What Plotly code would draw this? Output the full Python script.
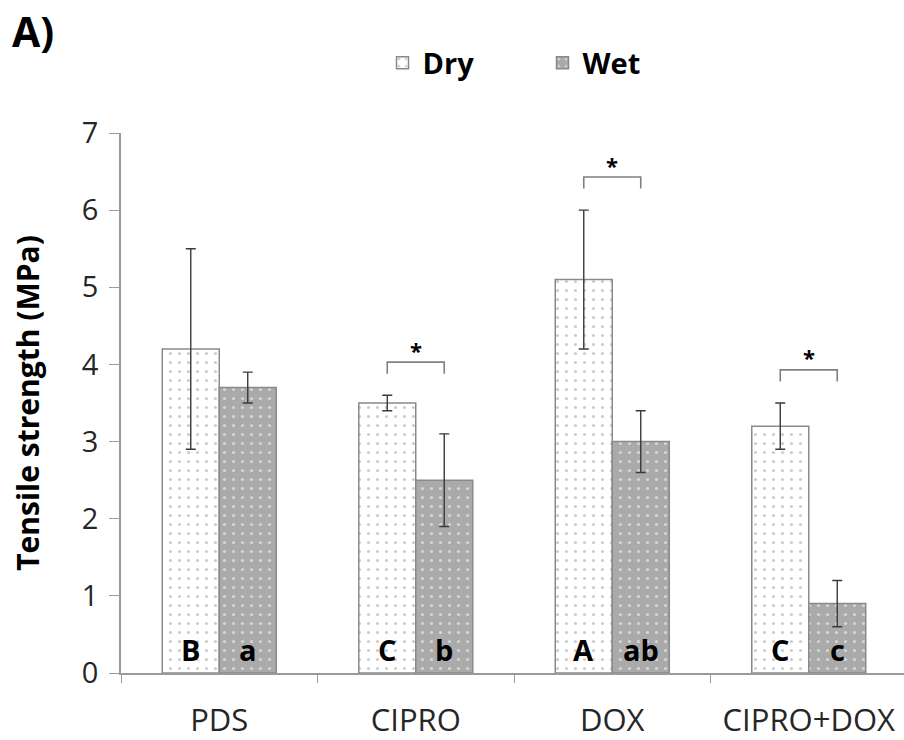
import plotly.graph_objects as go

# Tensile strength (MPa) of fibres, dry vs. wet, mean ± SD
categories = ["PDS", "CIPRO", "DOX", "CIPRO+DOX"]
dry_mean = [4.2, 3.5, 5.1, 3.2]
dry_sd = [1.3, 0.1, 0.9, 0.3]
wet_mean = [3.7, 2.5, 3.0, 0.9]
wet_sd = [0.2, 0.6, 0.4, 0.3]

# Statistical group letters
dry_letters = ["B", "C", "A", "C"]
wet_letters = ["a", "b", "ab", "c"]

# Dry vs. wet pairs that differ significantly
significant = ["CIPRO", "DOX", "CIPRO+DOX"]

FONT = "'Open Sans', sans-serif"
BAR_GAP = 0.42
HALF_BAR = (1 - BAR_GAP) / 4  # bar centre offset from the category centre

fig = go.Figure()

fig.add_trace(go.Bar(
    name="Dry", x=categories, y=dry_mean,
    error_y=dict(type="data", array=dry_sd, color="#3a3a3a", thickness=1.4, width=5),
    marker=dict(
        color="white",
        line=dict(color="#8a8a8a", width=1.5),
        pattern=dict(shape=".", fgcolor="#9a9a9a", bgcolor="white",
                     size=9, solidity=0.1, fillmode="overlay"),
    ),
))
fig.add_trace(go.Bar(
    name="Wet", x=categories, y=wet_mean,
    error_y=dict(type="data", array=wet_sd, color="#3a3a3a", thickness=1.4, width=5),
    marker=dict(
        color="#aaaaaa",
        line=dict(color="#8a8a8a", width=1.5),
        pattern=dict(shape=".", fgcolor="white", bgcolor="#aaaaaa",
                     size=9, solidity=0.1, fillmode="overlay"),
    ),
))

annotations = []

# Group letters near the base of each bar
for i, cat in enumerate(categories):
    for letter, sign in ((dry_letters[i], -1), (wet_letters[i], 1)):
        annotations.append(dict(
            x=i + sign * HALF_BAR, y=0.3, xref="x", yref="y",
            text=f"<b>{letter}</b>", showarrow=False,
            font=dict(family=FONT, size=29, color="black"),
        ))

# Significance brackets with asterisks
shapes = []
for cat in significant:
    i = categories.index(cat)
    top = max(dry_mean[i] + dry_sd[i], wet_mean[i] + wet_sd[i]) + 0.43
    x0, x1 = i - HALF_BAR, i + HALF_BAR
    shapes.append(dict(
        type="path", xref="x", yref="y",
        path=f"M {x0},{top - 0.15} L {x0},{top} L {x1},{top} L {x1},{top - 0.15}",
        line=dict(color="#808080", width=1.6),
    ))
    annotations.append(dict(
        x=i, y=top + 0.16, xref="x", yref="y", yanchor="middle", text="<b>*</b>",
        showarrow=False, font=dict(family=FONT, size=22, color="black"),
    ))

# Panel label
annotations.append(dict(
    x=-0.142, y=1.244, xref="paper", yref="paper", xanchor="left", yanchor="top",
    text="<b>A)</b>", showarrow=False, font=dict(family=FONT, size=41, color="black"),
))

fig.update_layout(
    width=904, height=740,
    margin=dict(l=121, r=0, t=133, b=67),
    paper_bgcolor="white", plot_bgcolor="white",
    barmode="group", bargap=BAR_GAP, bargroupgap=0,
    font=dict(family=FONT, color="#333333"),
    showlegend=True,
    legend=dict(
        orientation="h", x=0.334, y=1.13, xanchor="left", yanchor="middle",
        font=dict(family=FONT, size=29, color="black", weight="bold"),
        entrywidth=115, entrywidthmode="pixels", itemwidth=30,
        bgcolor="rgba(0,0,0,0)",
    ),
    annotations=annotations,
    shapes=shapes,
)

fig.update_xaxes(
    type="category", range=[-0.5, -0.5 + 783 / 196.5],
    showline=True, linecolor="#9a9a9a", linewidth=1.5,
    ticks="outside", tickson="boundaries", ticklen=8, tickcolor="#9a9a9a",
    tickfont=dict(family=FONT, size=31, color="#262626"),
    ticklabelstandoff=19,
    showgrid=False, zeroline=False, fixedrange=True,
)
fig.update_yaxes(
    range=[0, 7], dtick=1,
    showline=True, linecolor="#9a9a9a", linewidth=1.5,
    ticks="outside", ticklen=10, tickcolor="#9a9a9a",
    tickfont=dict(family=FONT, size=29, color="#262626"),
    ticklabelstandoff=5,
    title=dict(text="<b>Tensile strength (MPa)</b>", standoff=33,
               font=dict(family=FONT, size=30, color="black")),
    showgrid=False, zeroline=False, fixedrange=True,
)

fig.write_html("out.html")
